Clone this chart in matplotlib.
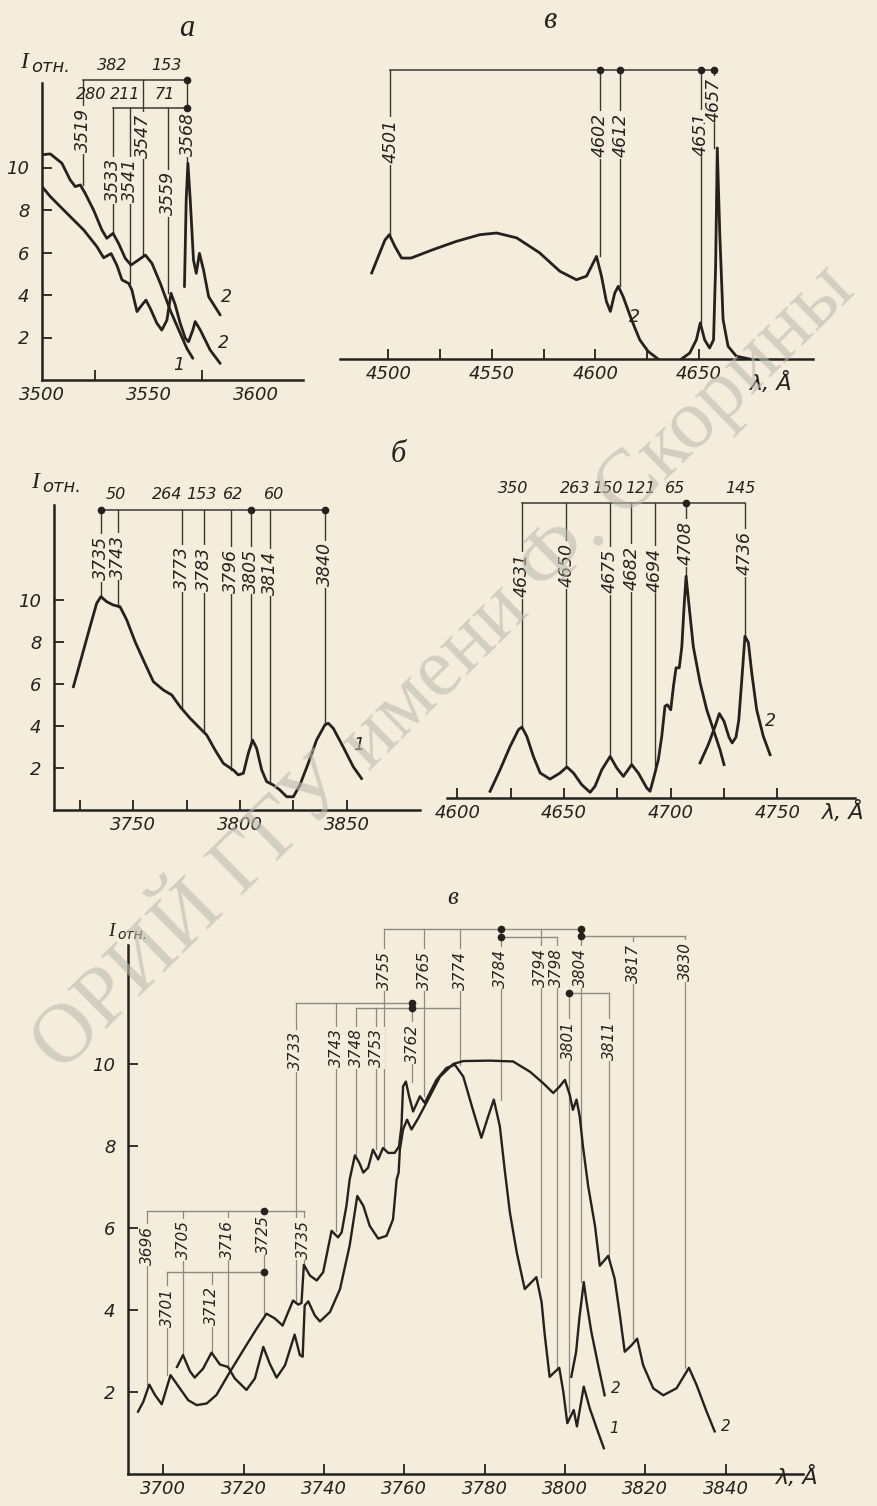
import matplotlib
matplotlib.use("Agg")
import matplotlib.pyplot as plt
from matplotlib import font_manager

# ---- panel а : 3500-3600 A
a_x1 = [3500, 3503.9, 3509.3, 3513.2, 3515.6, 3517.9, 3520.2, 3524.1, 3528.0, 3530.3, 3533.2,
        3535.8, 3538.9, 3541.6, 3545.1, 3548.3, 3551.4, 3555.3, 3559.9, 3564.6, 3567.7, 3570.5]
a_y1 = [10.6, 10.64, 10.2, 9.41, 9.1, 9.18, 8.78, 8.0, 7.06, 6.67, 6.9,
        6.43, 5.73, 5.41, 5.65, 5.88, 5.49, 4.55, 3.29, 2.2, 1.49, 1.02]
a_x2 = [3500, 3503.9, 3511.7, 3519.5, 3525.7, 3528.8, 3532.3, 3535, 3537.4, 3540.5, 3542, 3544.4,
        3546.7, 3548.6, 3550.6, 3553.7, 3556, 3558.4, 3560.3, 3562.3, 3564.6, 3567, 3568.5,
        3570.5, 3571.6, 3574, 3578.6, 3583.3]
a_y2 = [9.1, 8.63, 7.84, 7.06, 6.27, 5.75, 5.95, 5.4, 4.71, 4.55, 4.24, 3.22,
        3.53, 3.76, 3.37, 2.67, 2.35, 2.82, 4.08, 3.53, 2.67, 1.96, 1.8,
        2.35, 2.75, 2.35, 1.41, 0.78]
a_x3 = [3566.6, 3567.4, 3568.2, 3569.3, 3570.8, 3572.1, 3573.6, 3575.5, 3577.9, 3583.3]
a_y3 = [4.39, 8.47, 10.2, 8.47, 5.65, 5.02, 5.96, 5.18, 3.92, 3.06]
a_lines = [3519, 3533, 3541, 3547, 3559, 3568]
a_line_low = [9.18, 6.9, 4.55, 5.88, 4.08, 10.2]
a_nums = ['382', '153', '280', '211', '71']
a_num_x = [3533, 3558, 3523, 3539, 3557.5]

# ---- panel в (top) : 4500-4650 A
v_x1 = [4492, 4495.2, 4498.4, 4500.5, 4503.2, 4506.4, 4511, 4521.7, 4533, 4544.2, 4552.3, 4562,
        4573, 4582.8, 4590.8, 4595.7, 4598.9, 4600.5, 4602.9, 4605.3, 4607.2, 4609.3, 4611,
        4613.3, 4617.4, 4621.4, 4625.4, 4630.2]
v_y1 = [4.05, 4.83, 5.6, 5.85, 5.3, 4.75, 4.75, 5.15, 5.54, 5.85, 5.93, 5.7,
        5.0, 4.13, 3.73, 3.9, 4.52, 4.83, 3.9, 2.7, 2.24, 3.1, 3.42,
        2.95, 1.85, 0.9, 0.36, 0.0]
v_x2 = [4641.5, 4645.5, 4648.7, 4650.6, 4652.7, 4655.1, 4657, 4658, 4658.8, 4660, 4661.6,
        4664, 4668, 4674.4]
v_y2 = [0.0, 0.28, 0.9, 1.7, 0.9, 0.52, 0.9, 4.36, 9.93, 5.9, 1.85, 0.6, 0.13, 0.0]
v_lines = [4501, 4602, 4612, 4651, 4657]
v_line_low = [5.85, 4.83, 3.42, 1.7, 9.93]

# ---- panel б (left) : 3750-3850 A
b_x = [3721.9, 3725.8, 3729.7, 3732.8, 3734.8, 3737.5, 3740.6, 3743.75, 3746.9, 3750.8, 3754.7,
       3759.4, 3764.1, 3768, 3771.9, 3776.6, 3781.25, 3784.4, 3788.3, 3792.2, 3796.9, 3799.2,
       3801.6, 3803.9, 3805.9, 3807.8, 3810.2, 3812.5, 3815.6, 3818.75, 3821.9, 3825, 3828.1,
       3832, 3835.9, 3839.8, 3841.4, 3843.75, 3848.4, 3853.1, 3857]
b_y = [5.87, 7.3, 8.73, 9.84, 10.16, 9.92, 9.76, 9.68, 9.05, 8.02, 7.14,
       6.11, 5.71, 5.48, 4.92, 4.37, 3.89, 3.57, 2.86, 2.22, 1.9, 1.67,
       1.75, 2.7, 3.33, 2.94, 1.9, 1.35, 1.19, 0.95, 0.63, 0.63, 1.19,
       2.22, 3.33, 4.05, 4.13, 3.89, 3.0, 2.06, 1.5]
b_lines = [3735, 3743, 3773, 3783, 3796, 3805, 3814, 3840]
b_line_low = [10.16, 9.68, 4.8, 3.7, 1.9, 3.33, 1.27, 4.1]
b_nums = ['50', '264', '153', '62', '60']
b_num_x = [3742, 3766, 3782, 3797, 3816]

# ---- panel б (right) : 4600-4750 A
r_x1 = [4615.3, 4620, 4624.7, 4628.6, 4630.2, 4632.5, 4635.6, 4638.8, 4643.4, 4648.1, 4651.3,
        4654.4, 4658.3, 4662.2, 4664.5, 4667.7, 4671.6, 4674.7, 4677.8, 4681.7, 4684.8,
        4688.75, 4690.3, 4692.2, 4694.2, 4695.8, 4697.3, 4698.4, 4700, 4701.25, 4702.5, 4704,
        4705.2, 4706.25, 4707.2, 4708.3, 4710.6, 4713.75, 4716.9, 4720, 4723.1, 4725]
r_y1 = [0.32, 1.35, 2.46, 3.25, 3.38, 2.94, 1.98, 1.19, 0.9, 1.19, 1.48,
        1.19, 0.63, 0.27, 0.56, 1.35, 1.98, 1.43, 1.03, 1.59, 1.19,
        0.48, 0.32, 1.03, 1.83, 2.94, 4.37, 4.44, 4.2, 5.3, 6.2, 6.2,
        7.2, 9.1, 10.56, 9.44, 7.2, 5.5, 4.2, 3.25, 2.3, 1.59]
r_x2 = [4713.75, 4717.6, 4720.8, 4722.8, 4725, 4727.3, 4728.8, 4730.6, 4731.9, 4733.3, 4734.8,
        4736.4, 4738, 4740.3, 4743.4, 4746.6]
r_y2 = [1.67, 2.54, 3.41, 4.02, 3.65, 2.9, 2.62, 2.9, 3.7, 5.6, 7.7, 7.4, 5.95, 4.2, 2.94, 2.06]
r_lines = [4631, 4650, 4675, 4682, 4694, 4708, 4736]
r_line_at = [4630.2, 4651.0, 4671.6, 4681.6, 4692.6, 4707.2, 4734.8]   # where the lines are drawn
r_line_low = [3.38, 1.48, 1.98, 1.59, 1.3, 10.56, 7.7]
r_nums = ['350', '263', '150', '121', '65', '145']
r_num_x = [4626, 4655, 4670.5, 4686, 4702, 4732.5]

# ---- panel в (bottom) : 3700-3840 A
c_x1 = [3693.7, 3695.0, 3696.5, 3697.9, 3699.6, 3700.8, 3701.8, 3704.1, 3706.2, 3708.3, 3710.8,
        3713.25, 3716.1, 3719.9, 3723.2, 3725.7, 3727.8, 3729.7, 3731.1, 3732.3, 3733.6, 3734.4,
        3735.0, 3736.5, 3738.2, 3739.8, 3741.9, 3743.5, 3744.4, 3745.6, 3746.4, 3747.7, 3748.8,
        3749.8, 3751.0, 3752.2, 3753.5, 3754.7, 3756.0, 3757.6, 3758.7, 3759.3, 3759.7, 3760.4,
        3761.2, 3762.2, 3763.9, 3765.1, 3768.0, 3770.5, 3772.6, 3774.7, 3777.1, 3779.2, 3780.9,
        3782.3, 3783.8, 3785.0, 3786.3, 3788.0, 3790.0, 3792.9, 3794.2, 3795.0, 3796.2, 3798.6,
        3799.6, 3800.6, 3802.2, 3803.0, 3804.7, 3806.2, 3807.9, 3809.7]
c_y1 = [1.52, 1.76, 2.18, 1.93, 1.70, 2.09, 2.41, 2.09, 1.80, 1.68, 1.72,
        1.93, 2.41, 3.02, 3.54, 3.91, 3.79, 3.62, 3.95, 4.23, 4.13, 4.17,
        5.10, 4.84, 4.72, 4.92, 5.93, 5.77, 5.89, 6.54, 7.18, 7.77, 7.59,
        7.35, 7.47, 7.91, 7.67, 7.95, 7.83, 7.83, 7.99, 8.48, 9.45, 9.57,
        9.21, 8.84, 9.21, 9.05, 9.61, 9.90, 9.98, 9.69, 8.88, 8.20, 8.72,
        9.13, 8.48, 7.43, 6.38, 5.41, 4.51, 4.80, 4.19, 3.38, 2.37, 2.59,
        2.01, 1.24, 1.56, 1.16, 2.13, 1.60, 1.12, 0.63]
c_x2 = [3703.4, 3704.9, 3706.6, 3707.8, 3709.9, 3712.0, 3714.1, 3716.1, 3717.8, 3720.7, 3722.8,
        3724.9, 3726.5, 3728.2, 3730.3, 3732.7, 3734.0, 3734.7, 3735.2, 3736.1, 3737.7, 3739.0,
        3741.5, 3744.0, 3746.4, 3748.3, 3749.8, 3751.4, 3753.5, 3755.6, 3757.2, 3758.1, 3758.6,
        3758.9, 3759.7, 3760.7, 3761.8, 3763.5, 3765.5, 3768.9, 3772.2, 3774.7, 3781.3, 3787.1,
        3791.3, 3794.6, 3797.1, 3798.7, 3800.0, 3801.2, 3802.0, 3802.9, 3803.7, 3804.5, 3805.8,
        3807.5, 3808.7, 3810.8, 3812.4, 3813.7, 3814.9, 3816.6, 3818.0, 3819.5, 3822.0, 3824.5,
        3827.8, 3830.9, 3832.8, 3835.3, 3837.3]
c_y2 = [2.61, 2.90, 2.51, 2.35, 2.57, 2.96, 2.67, 2.61, 2.33, 2.05, 2.33,
        3.10, 2.69, 2.35, 2.65, 3.40, 2.90, 2.86, 4.11, 4.21, 3.87, 3.72,
        3.95, 4.51, 5.57, 6.78, 6.54, 6.05, 5.74, 5.81, 6.21, 7.18, 7.35,
        7.91, 8.40, 8.64, 8.40, 8.68, 9.05, 9.69, 10.0, 10.07, 10.08, 10.06,
        9.81, 9.53, 9.29, 9.45, 9.61, 9.25, 8.88, 9.13, 8.72, 7.99, 7.02,
        6.05, 5.08, 5.32, 4.76, 3.87, 2.98, 3.14, 3.30, 2.65, 2.09, 1.92,
        2.09, 2.59, 2.17, 1.52, 1.04]
c_x3 = [3801.6, 3802.8, 3803.6, 3804.7, 3805.4, 3806.6, 3808.3, 3809.9]
c_y3 = [2.37, 2.98, 3.79, 4.68, 4.19, 3.46, 2.65, 1.92]
c_lines = [3696, 3701, 3705, 3712, 3716, 3725, 3733, 3735, 3743, 3748, 3753, 3755,
           3762, 3765, 3774, 3784, 3794, 3798, 3801, 3804, 3811, 3817, 3830]
c_line_low = [2.18, 2.41, 2.90, 2.96, 2.6, 3.91, 4.23, 5.10, 5.93, 7.77, 7.93, 7.95,
              9.57, 9.21, 9.98, 9.13, 4.80, 2.59, 1.5, 4.68, 5.32, 3.30, 2.59]

# ---------------------------------------------------------------- style
W, H = 878, 1506
BG = '#f4eddb'
INK = '#24211e'
LINE_DARK = '#3a3733'
LINE_GREY = '#8e8a82'

names = {f.name for f in font_manager.fontManager.ttflist}
if 'Liberation Sans Narrow' in names:
    FONT, K = 'Liberation Sans Narrow', 1.22
else:
    FONT, K = 'DejaVu Sans', 1.0
plt.rcParams['font.family'] = [FONT, 'DejaVu Sans']
plt.rcParams['font.style'] = 'italic'
TICK_FS = 13 * K
LAB_FS = 12.5 * K
LAB_FS_C = 11 * K
NUM_FS = 11.5 * K

fig = plt.figure(figsize=(W / 100, H / 100), dpi=100, facecolor=BG)


def px_axes(left, right, top, bottom, xlim, ylim, yaxis=True):
    ax = fig.add_axes([left / W, 1 - bottom / H, (right - left) / W, (bottom - top) / H])
    ax.set_xlim(*xlim)
    ax.set_ylim(*ylim)
    ax.patch.set_visible(False)
    ax.spines['top'].set_visible(False)
    ax.spines['right'].set_visible(False)
    ax.spines['left'].set_visible(yaxis)
    for s in ax.spines.values():
        s.set_color(INK)
        s.set_linewidth(1.8)
    ax.tick_params(direction='in', which='both', length=7, width=1.3, color=INK,
                   labelsize=TICK_FS, labelcolor=INK)
    ax.tick_params(axis='x', pad=4)
    ax.tick_params(axis='y', pad=9)
    if yaxis:
        ax.set_yticks([2, 4, 6, 8, 10])
    else:
        ax.set_yticks([])
    return ax


def label_lines(ax, labels, lows, text_y, tops, fs, color, lw, xs=None):
    xs = labels if xs is None else xs
    for lab, x, lo, ty, top in zip(labels, xs, lows, text_y, tops):
        ax.plot([x, x], [lo, top], color=color, lw=lw, zorder=2, clip_on=False)
        ax.text(x, ty, str(lab), rotation=90, ha='center', va='center', fontsize=fs,
                color=INK, zorder=5, clip_on=False,
                bbox=dict(boxstyle='square,pad=0.1', fc=BG, ec='none'))


def bracket(ax, x0, x1, y, dots, color, lw):
    ax.plot([x0, x1], [y, y], color=color, lw=lw, zorder=2, clip_on=False)
    ax.plot(dots, [y] * len(dots), 'o', ms=4.5, color=INK, zorder=6, clip_on=False)


def ftext(xp, yp, s, **kw):
    fig.text(xp / W, 1 - yp / H, s, **kw)


def curve_label(ax, x, y, s, fs):
    ax.text(x, y, s, ha='center', va='center', fontsize=fs, color=INK, clip_on=False)


# ---------------------------------------------------------------- panel а
ax = px_axes(42, 303, 82.5, 380, (3500, 3622), (0, 14))
ax.set_xticks([3500, 3550, 3600])
ax.set_xticks([3525, 3550, 3575], minor=True)
ax.tick_params(axis='x', which='major', length=0)
for xs, ys in ((a_x1, a_y1), (a_x2, a_y2), (a_x3, a_y3)):
    ax.plot(xs, ys, color=INK, lw=2.0, zorder=3, solid_capstyle='round')
label_lines(ax, a_lines, a_line_low, [11.76, 9.4, 9.4, 11.5, 8.78, 11.6],
            [14.1, 12.78, 12.78, 14.1, 12.78, 14.1], LAB_FS, LINE_DARK, 1.0)
bracket(ax, 3519, 3568, 14.1, [3568], LINE_DARK, 1.1)
bracket(ax, 3533, 3568, 12.78, [3568], LINE_DARK, 1.1)
for s, x, y in zip(a_nums, a_num_x, [14.8, 14.8, 13.42, 13.42, 13.42]):
    ax.text(x, y, s, ha='center', va='center', fontsize=NUM_FS, color=INK, clip_on=False)
curve_label(ax, 3563.8, 0.7, '1', LAB_FS)
curve_label(ax, 3586.4, 3.92, '2', LAB_FS)
curve_label(ax, 3584.9, 1.73, '2', LAB_FS)
ftext(24, 63, 'I', fontsize=17, family='Liberation Serif', style='italic', color=INK,
      ha='center', va='center')
ftext(31, 67, 'отн.', fontsize=13 * K, color=INK, ha='left', va='center')
ftext(187, 29, 'а', fontsize=22, family='Liberation Serif', style='italic', color=INK,
      ha='center', va='center')

# ---------------------------------------------------------------- panel в (top)
ax = px_axes(340, 813, 61.5, 359, (4476.7, 4705), (0, 14), yaxis=False)
ax.set_xticks([4500, 4550, 4600, 4650])
ax.set_xticks([4525, 4575, 4625], minor=True)
ax.plot(v_x1, v_y1, color=INK, lw=2.0, zorder=3)
ax.plot(v_x2, v_y2, color=INK, lw=2.0, zorder=3)
label_lines(ax, v_lines, v_line_low, [10.25, 10.55, 10.55, 10.6, 12.2],
            [13.6] * 5, LAB_FS, LINE_DARK, 1.0)
bracket(ax, 4501, 4657, 13.6, [4602, 4612, 4651, 4657], LINE_DARK, 1.1)
curve_label(ax, 4618.8, 2.0, '2', LAB_FS)
ftext(550, 20, 'в', fontsize=22, family='Liberation Serif', style='italic', color=INK,
      ha='center', va='center')
ftext(750, 383, 'λ, Å', fontsize=16, color=INK, ha='left', va='center')

# ---------------------------------------------------------------- panel б (left)
ax = px_axes(54, 420, 505.5, 810, (3712.8, 3884.4), (0, 14.5))
ax.set_xticks([3750, 3800, 3850])
ax.set_xticks([3725, 3775, 3825], minor=True)
ax.plot(b_x, b_y, color=INK, lw=2.0, zorder=3)
label_lines(ax, b_lines, b_line_low, [12.0, 12.06, 11.5, 11.48, 11.4, 11.4, 11.3, 11.7],
            [14.29] * 8, LAB_FS, LINE_DARK, 1.0)
bracket(ax, 3735, 3840, 14.29, [3735, 3805, 3840], LINE_DARK, 1.1)
for s, x in zip(b_nums, b_num_x):
    ax.text(x, 15.0, s, ha='center', va='center', fontsize=NUM_FS, color=INK, clip_on=False)
curve_label(ax, 3855.5, 3.1, '1', LAB_FS)
ftext(35, 483, 'I', fontsize=17, family='Liberation Serif', style='italic', color=INK,
      ha='center', va='center')
ftext(42, 487, 'отн.', fontsize=13 * K, color=INK, ha='left', va='center')
ftext(398, 455, 'б', fontsize=22, family='Liberation Serif', style='italic', color=INK,
      ha='center', va='center')

# ---------------------------------------------------------------- panel б (right)
ax = px_axes(447, 855, 493.5, 798, (4595.1, 4786.4), (0, 14.5), yaxis=False)
ax.set_xticks([4600, 4650, 4700, 4750])
ax.set_xticks([4625, 4675, 4725], minor=True)
ax.plot(r_x1, r_y1, color=INK, lw=2.0, zorder=3)
ax.plot(r_x2, r_y2, color=INK, lw=2.0, zorder=3)
label_lines(ax, r_lines, r_line_low, [10.6, 11.1, 10.8, 10.95, 10.87, 12.14, 11.67],
            [14.05] * 7, LAB_FS, LINE_DARK, 1.0, xs=r_line_at)
bracket(ax, r_line_at[0], r_line_at[-1], 14.05, [r_line_at[5]], LINE_DARK, 1.1)
for s, x in zip(r_nums, r_num_x):
    ax.text(x, 14.76, s, ha='center', va='center', fontsize=NUM_FS, color=INK, clip_on=False)
curve_label(ax, 4746.6, 3.65, '2', LAB_FS)
ftext(822, 812, 'λ, Å', fontsize=16, color=INK, ha='left', va='center')

# ---------------------------------------------------------------- panel в (bottom)
ax = px_axes(128, 803, 945, 1474, (3691.2, 3859.3), (0, 12.9))
ax.set_xticks([3700, 3720, 3740, 3760, 3780, 3800, 3820, 3840])
ax.plot(c_x1, c_y1, color=INK, lw=1.7, zorder=3)
ax.plot(c_x2, c_y2, color=INK, lw=1.7, zorder=3)
ax.plot(c_x3, c_y3, color=INK, lw=1.7, zorder=3)
B1, B2, L1, L2, L3, T1, T2, T3 = 6.41, 4.93, 11.48, 11.36, 11.72, 13.3, 13.1, 13.12
c_text_y = [5.58, 4.07, 5.71, 4.1, 5.72, 5.85, 10.32, 5.72, 10.39, 10.39, 10.39, 12.28,
            10.5, 12.28, 12.28, 12.33, 12.36, 12.36, 10.58, 12.36, 10.58, 12.45, 12.5]
c_top = [B1, B2, B1, B2, B1, B1, L1, B1, L1, L2, L2, T1,
         L1, T1, T1, T1, T1, T2, L3, T1, L3, T3, T3]
label_lines(ax, c_lines, c_line_low, c_text_y, c_top, LAB_FS_C, LINE_GREY, 0.9)
for x0, x1, y, dots in ((3696, 3735, B1, [3725]), (3701, 3725, B2, [3725]),
                        (3733, 3762, L1, [3762]), (3748, 3774, L2, [3762]),
                        (3801, 3811, L3, [3801]), (3755, 3804, T1, [3784, 3804]),
                        (3784, 3798, T2, [3784]), (3804, 3830, T3, [3804])):
    bracket(ax, x0, x1, y, dots, LINE_GREY, 1.0)
curve_label(ax, 3812.3, 1.12, '1', LAB_FS_C)
curve_label(ax, 3812.8, 2.09, '2', LAB_FS_C)
curve_label(ax, 3840.2, 1.16, '2', LAB_FS_C)
ftext(111, 931, 'I', fontsize=14, family='Liberation Serif', style='italic', color=INK,
      ha='center', va='center')
ftext(117, 935, 'отн.', fontsize=10 * K, color=INK, ha='left', va='center')
ftext(453, 898, 'в', fontsize=18, family='Liberation Serif', style='italic', color=INK,
      ha='center', va='center')
ftext(776, 1477, 'λ, Å', fontsize=16, color=INK, ha='left', va='center')

# watermark of the scanned page (visible part only)
ftext(440, 664, 'ОРИЙ ГГУ имени Ф. Скорины', fontsize=61, family='Liberation Serif',
      style='normal', color='#bdbab2', alpha=0.6, rotation=44.5, rotation_mode='anchor',
      ha='center', va='center', zorder=10)

fig.savefig('out.png', dpi=100, facecolor=BG)
